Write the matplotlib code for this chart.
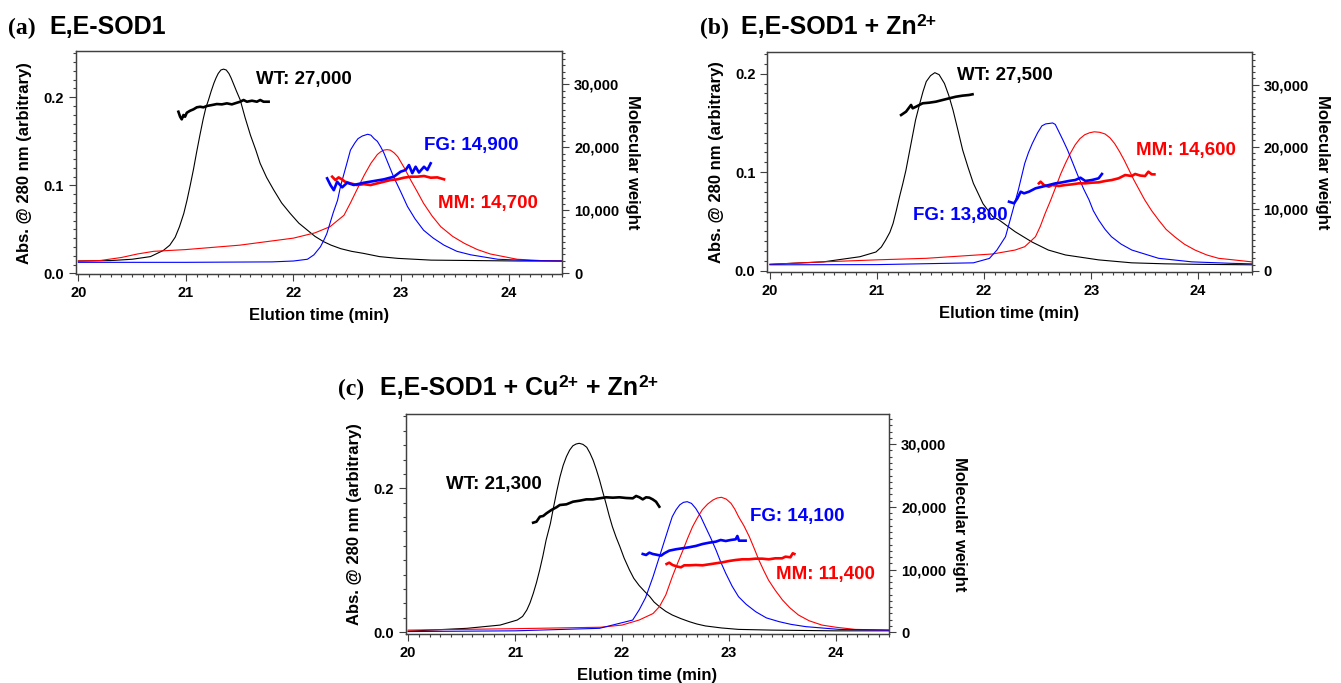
import matplotlib
matplotlib.use('Agg')
import matplotlib.pyplot as plt
from matplotlib import ticker

plt.rcParams['font.family'] = ['Liberation Sans', 'DejaVu Sans']
plt.rcParams['font.weight'] = 'bold'
plt.rcParams['axes.labelweight'] = 'bold'

# ---- panel (a): E,E-SOD1 ----
a_wt_t = [20.0, 20.3, 20.5, 20.67, 20.79, 20.85, 20.90, 20.94, 20.98, 21.01, 21.04, 21.07, 21.10, 21.13,
          21.16, 21.185, 21.21, 21.235, 21.26, 21.28, 21.30, 21.325, 21.35, 21.375, 21.40, 21.42, 21.44,
          21.47, 21.505, 21.55, 21.60, 21.65, 21.69, 21.75, 21.815, 21.89, 21.97, 22.05, 22.13, 22.2,
          22.28, 22.35, 22.44, 22.54, 22.65, 22.8, 22.97, 23.28, 23.7, 24.1, 24.5]
a_wt_abs = [0.014, 0.0145, 0.016, 0.019, 0.026, 0.032, 0.041, 0.053, 0.068, 0.083, 0.100, 0.118, 0.138, 0.157,
            0.175, 0.188, 0.197, 0.207, 0.216, 0.222, 0.227, 0.231, 0.232, 0.231, 0.227, 0.222, 0.216,
            0.207, 0.197, 0.177, 0.157, 0.140, 0.125, 0.109, 0.095, 0.080, 0.068, 0.057, 0.049, 0.042,
            0.036, 0.032, 0.028, 0.025, 0.0227, 0.019, 0.017, 0.015, 0.0145, 0.014, 0.014]
a_fg_t = [20.0, 21.0, 21.8, 22.0, 22.13, 22.19, 22.25, 22.28, 22.31, 22.34, 22.37, 22.41, 22.44, 22.49,
          22.53, 22.57, 22.60, 22.64, 22.69, 22.72, 22.75, 22.78, 22.81, 22.84, 22.87, 22.90, 22.93, 22.965,
          23.0, 23.06, 23.13, 23.21, 23.30, 23.40, 23.52, 23.65, 23.90, 24.21, 24.5]
a_fg_abs = [0.0125, 0.0125, 0.013, 0.014, 0.016, 0.021, 0.030, 0.037, 0.045, 0.057, 0.069, 0.083, 0.100, 0.122,
            0.140, 0.148, 0.153, 0.156, 0.158, 0.157, 0.153, 0.150, 0.144, 0.137, 0.128, 0.119, 0.110, 0.101,
            0.092, 0.076, 0.062, 0.049, 0.040, 0.032, 0.025, 0.021, 0.016, 0.0145, 0.014]
a_mm_t = [20.0, 20.2, 20.4, 20.55, 20.7, 21.0, 21.5, 22.0, 22.2, 22.34, 22.47, 22.53, 22.59, 22.66, 22.72,
          22.78, 22.81, 22.84, 22.87, 22.90, 22.935, 22.97, 23.03, 23.09, 23.15, 23.21, 23.29, 23.37, 23.48,
          23.59, 23.71, 23.83, 24.08, 24.3, 24.5]
a_mm_abs = [0.014, 0.0145, 0.018, 0.022, 0.025, 0.027, 0.032, 0.040, 0.046, 0.053, 0.066, 0.080, 0.095, 0.112,
            0.125, 0.135, 0.138, 0.140, 0.1405, 0.140, 0.137, 0.1325, 0.120, 0.106, 0.093, 0.0795, 0.065, 0.053,
            0.042, 0.034, 0.027, 0.022, 0.016, 0.0145, 0.014]
a_wt_mw_t = [20.93, 20.946, 20.961, 20.977, 20.992, 21.008, 21.039, 21.07, 21.101, 21.132, 21.163, 21.194,
             21.241, 21.287, 21.334, 21.381, 21.427, 21.474, 21.505, 21.536, 21.567, 21.614, 21.66, 21.691,
             21.722, 21.769]
a_wt_mw = [25650, 24860, 24440, 25130, 24860, 25490, 25810, 26030, 26350, 26440, 26350, 26560, 26710, 26870,
           26820, 26980, 26820, 27080, 27240, 27510, 27240, 27400, 27240, 27510, 27240, 27240]
a_fg_mw_t = [22.313, 22.344, 22.375, 22.406, 22.453, 22.499, 22.561, 22.655, 22.748, 22.841, 22.934, 22.996,
             23.043, 23.074, 23.105, 23.136, 23.167, 23.214, 23.245, 23.276]
a_fg_mw = [15080, 14016, 13200, 14540, 13650, 14380, 14020, 14380, 14650, 14920, 15340, 16130, 16400, 17190,
           15900, 16920, 16000, 16920, 16400, 17460]
a_mm_mw_t = [22.36, 22.39, 22.42, 22.45, 22.48, 22.53, 22.59, 22.655, 22.717, 22.779, 22.841, 22.903, 22.965,
             23.027, 23.09, 23.152, 23.214, 23.276, 23.338, 23.40]
a_mm_mw = [15340, 14810, 15230, 14920, 14540, 14280, 14016, 14150, 14016, 14280, 14540, 14810, 14920, 15180,
           15340, 15340, 15450, 15180, 15230, 14920]

# ---- panel (b): E,E-SOD1 + Zn ----
b_wt_t = [20.0, 20.5, 20.84, 20.99, 21.04, 21.08, 21.12, 21.15, 21.18, 21.21, 21.24, 21.27, 21.30, 21.33,
          21.36, 21.40, 21.43, 21.46, 21.50, 21.54, 21.58, 21.63, 21.67, 21.71, 21.755, 21.80, 21.85, 21.90,
          21.99, 22.08, 22.14, 22.29, 22.45, 22.60, 22.76, 23.07, 23.38, 23.69, 24.0, 24.5]
b_wt_abs = [0.0065, 0.009, 0.0142, 0.019, 0.024, 0.031, 0.039, 0.048, 0.061, 0.075, 0.088, 0.102, 0.119, 0.136,
            0.153, 0.170, 0.182, 0.192, 0.198, 0.201, 0.199, 0.190, 0.178, 0.163, 0.143, 0.1225, 0.105, 0.0887,
            0.068, 0.055, 0.0515, 0.0396, 0.029, 0.021, 0.016, 0.011, 0.008, 0.007, 0.0065, 0.006]
b_fg_t = [20.0, 21.0, 21.9, 22.05, 22.12, 22.20, 22.26, 22.32, 22.38, 22.415, 22.45, 22.50, 22.54, 22.575,
          22.61, 22.64, 22.665, 22.69, 22.735, 22.78, 22.83, 22.88, 22.93, 22.98, 23.02, 23.07, 23.13, 23.19,
          23.28, 23.38, 23.63, 23.94, 24.31, 24.5]
b_fg_abs = [0.006, 0.0062, 0.008, 0.0125, 0.021, 0.0345, 0.058, 0.082, 0.109, 0.120, 0.129, 0.140, 0.147, 0.149,
            0.1495, 0.150, 0.1485, 0.143, 0.133, 0.1225, 0.109, 0.0955, 0.083, 0.072, 0.061, 0.0515, 0.042,
            0.0345, 0.027, 0.021, 0.0126, 0.009, 0.0075, 0.007]
b_mm_t = [20.0, 20.5, 20.99, 21.46, 22.08, 22.29, 22.38, 22.48, 22.525, 22.57, 22.62, 22.67, 22.715, 22.76,
          22.805, 22.85, 22.895, 22.94, 22.985, 23.03, 23.08, 23.13, 23.175, 23.22, 23.265, 23.31, 23.355,
          23.40, 23.45, 23.50, 23.565, 23.63, 23.70, 23.78, 23.87, 23.97, 24.08, 24.19, 24.33, 24.5]
b_mm_abs = [0.0065, 0.009, 0.011, 0.0126, 0.017, 0.021, 0.0244, 0.0345, 0.045, 0.058, 0.071, 0.085, 0.098, 0.109,
            0.119, 0.1276, 0.134, 0.138, 0.140, 0.141, 0.1405, 0.1388, 0.135, 0.129, 0.121, 0.112, 0.102,
            0.092, 0.082, 0.072, 0.061, 0.0515, 0.042, 0.0345, 0.027, 0.021, 0.016, 0.0126, 0.011, 0.009]
b_wt_mw_t = [21.225, 21.271, 21.318, 21.333, 21.364, 21.426, 21.488, 21.55, 21.612, 21.674, 21.736, 21.798,
             21.86, 21.892]
b_wt_mw = [25110, 25650, 26730, 26190, 26450, 27000, 27100, 27260, 27530, 27800, 28060, 28230, 28340, 28450]
b_fg_mw_t = [22.233, 22.28, 22.311, 22.342, 22.373, 22.419, 22.481, 22.543, 22.605, 22.667, 22.729, 22.791,
             22.853, 22.9, 22.946, 23.008, 23.07, 23.101]
b_fg_mw = [11130, 10870, 11670, 12740, 12480, 12740, 13290, 13550, 13820, 14090, 14250, 14470, 14630, 15000,
           14470, 14630, 14900, 15600]
b_mm_mw_t = [22.512, 22.528, 22.559, 22.605, 22.636, 22.698, 22.76, 22.822, 22.884, 22.946, 23.008, 23.07,
             23.132, 23.194, 23.256, 23.318, 23.38, 23.411, 23.458, 23.504, 23.535, 23.566, 23.591]
b_mm_mw = [14090, 14360, 13820, 13550, 13820, 13660, 13820, 13930, 14090, 14090, 14200, 14250, 14470, 14630,
           14900, 15430, 15270, 15600, 15350, 15270, 15970, 15540, 15540]

# ---- panel (c): E,E-SOD1 + Cu + Zn ----
c_wt_t = [20.0, 20.55, 20.86, 21.02, 21.07, 21.11, 21.14, 21.17, 21.20, 21.23, 21.26, 21.29, 21.33, 21.36,
          21.39, 21.42, 21.45, 21.48, 21.51, 21.54, 21.57, 21.60, 21.635, 21.67, 21.70, 21.73, 21.76, 21.79,
          21.82, 21.85, 21.88, 21.91, 21.945, 21.98, 22.02, 22.07, 22.11, 22.16, 22.21, 22.26, 22.30, 22.35,
          22.41, 22.47, 22.55, 22.63, 22.70, 22.78, 22.93, 23.09, 23.40, 24.0, 24.5]
c_wt_abs = [0.0015, 0.0055, 0.010, 0.017, 0.022, 0.031, 0.041, 0.054, 0.069, 0.0865, 0.106, 0.128, 0.151, 0.174,
            0.196, 0.216, 0.232, 0.244, 0.253, 0.259, 0.2615, 0.2625, 0.261, 0.257, 0.249, 0.239, 0.226, 0.2115,
            0.195, 0.179, 0.162, 0.1467, 0.132, 0.119, 0.103, 0.0865, 0.075, 0.065, 0.057, 0.0495, 0.042, 0.0356,
            0.029, 0.024, 0.019, 0.0147, 0.0115, 0.0088, 0.006, 0.004, 0.003, 0.002, 0.002]
c_fg_t = [20.0, 21.0, 21.79, 22.10, 22.16, 22.22, 22.29, 22.32, 22.35, 22.38, 22.41, 22.44, 22.47, 22.505,
          22.54, 22.575, 22.61, 22.65, 22.69, 22.735, 22.78, 22.83, 22.88, 22.925, 22.97, 23.03, 23.09, 23.16,
          23.25, 23.35, 23.47, 23.58, 23.72, 24.03, 24.5]
c_fg_abs = [0.001, 0.002, 0.0055, 0.017, 0.031, 0.048, 0.077, 0.091, 0.105, 0.119, 0.133, 0.147, 0.1606, 0.170,
            0.177, 0.1805, 0.1814, 0.179, 0.172, 0.161, 0.1467, 0.131, 0.114, 0.097, 0.082, 0.064, 0.0494, 0.039,
            0.0286, 0.020, 0.0147, 0.011, 0.0078, 0.004, 0.003]
c_mm_t = [20.0, 21.0, 21.8, 22.0, 22.16, 22.29, 22.35, 22.41, 22.47, 22.52, 22.57, 22.615, 22.66, 22.705,
          22.75, 22.80, 22.85, 22.89, 22.93, 22.975, 23.02, 23.055, 23.09, 23.14, 23.19, 23.235, 23.28, 23.325,
          23.37, 23.43, 23.50, 23.57, 23.65, 23.75, 23.87, 24.0, 24.18, 24.5]
c_mm_abs = [0.003, 0.005, 0.007, 0.010, 0.017, 0.026, 0.0356, 0.052, 0.077, 0.096, 0.114, 0.131, 0.1467, 0.159,
            0.170, 0.178, 0.1837, 0.1865, 0.1875, 0.185, 0.179, 0.171, 0.1606, 0.148, 0.133, 0.117, 0.1004, 0.086,
            0.0726, 0.059, 0.045, 0.034, 0.024, 0.016, 0.010, 0.007, 0.004, 0.003]
c_wt_mw_t = [21.169, 21.2, 21.232, 21.263, 21.294, 21.34, 21.387, 21.418, 21.48, 21.542, 21.604, 21.666,
             21.728, 21.79, 21.852, 21.914, 21.976, 22.039, 22.101, 22.132, 22.163, 22.194, 22.225, 22.256,
             22.287, 22.318, 22.349]
c_wt_mw = [17480, 17640, 18440, 18550, 18980, 19510, 19940, 20300, 20410, 20830, 20990, 21200, 21200, 21370,
           21530, 21470, 21530, 21420, 21370, 21740, 21530, 21200, 21530, 21470, 21200, 20830, 20030]
c_fg_mw_t = [22.194, 22.225, 22.256, 22.287, 22.334, 22.365, 22.396, 22.442, 22.504, 22.566, 22.628, 22.691,
             22.753, 22.815, 22.877, 22.923, 22.97, 23.017, 23.063, 23.079, 23.094, 23.156]
c_fg_mw = [12490, 12330, 12700, 12490, 12330, 12220, 12600, 13020, 13240, 13400, 13560, 13770, 14080, 14290,
           14450, 14720, 14560, 14720, 14830, 15360, 14610, 14610]
c_mm_mw_t = [22.417, 22.442, 22.473, 22.52, 22.551, 22.582, 22.628, 22.691, 22.753, 22.815, 22.877, 22.939,
             23.001, 23.063, 23.125, 23.187, 23.249, 23.311, 23.373, 23.435, 23.497, 23.529, 23.575, 23.597,
             23.612]
c_mm_mw = [10890, 11100, 10730, 10470, 10360, 10680, 10680, 10730, 10680, 10840, 11000, 11160, 11370, 11530,
           11640, 11640, 11740, 11740, 11640, 11800, 11800, 12060, 11960, 12600, 12490]

x_ticks = [20, 21, 22, 23, 24]

BLACK, BLUE, RED = '#000000', '#0000ff', '#ff0000'
SPINE = '#404040'
W, H = 1341, 683


def style_axis(ax):
    ax.tick_params(axis='both', which='both', direction='out', colors=SPINE, width=0.8,
                   labelcolor='black', labelsize=10.5)
    ax.tick_params(which='major', length=5)
    ax.tick_params(which='minor', length=2.5)
    for s in ax.spines.values():
        s.set_color(SPINE)
        s.set_linewidth(0.9)


def bold_ticks(ax):
    for lab in ax.get_xticklabels() + ax.get_yticklabels():
        lab.set_fontweight('bold')


def draw_panel(fig, box, curves, mw, labels, ylim, y_major, mw_top):
    left, top, right, bottom = box
    ax = fig.add_axes([left / W, 1 - bottom / H, (right - left) / W, (bottom - top) / H])
    for t, v, c in curves:
        ax.plot(t, v, color=c, lw=0.8)
    ax.set_xlim(19.975, 24.5)
    ax.set_ylim(*ylim)
    ax.set_xticks(x_ticks)
    ax.xaxis.set_minor_locator(ticker.MultipleLocator(0.1))
    ax.yaxis.set_major_locator(ticker.MultipleLocator(y_major))
    ax.yaxis.set_minor_locator(ticker.MultipleLocator(0.01 if y_major < 0.15 else 0.02))
    ax.yaxis.set_major_formatter(ticker.FormatStrFormatter('%.1f'))
    style_axis(ax)
    ax.set_xlabel('Elution time (min)', fontsize=12, fontweight='bold', labelpad=6)
    ax.set_ylabel('Abs. @ 280 nm (arbitrary)', fontsize=12, fontweight='bold', labelpad=8)
    for txt, x, y, c in labels:
        ax.text(x, y, txt, color=c, fontsize=13.5, fontweight='bold', ha='left', va='center')

    ax2 = ax.twinx()
    for t, v, c in mw:
        ax2.plot(t, v, color=c, lw=1.9)
    ax2.set_ylim(ylim[0] / ylim[1] * mw_top, mw_top)
    ax2.yaxis.set_major_locator(ticker.MultipleLocator(10000))
    ax2.yaxis.set_minor_locator(ticker.MultipleLocator(1000))
    ax2.yaxis.set_major_formatter(ticker.FuncFormatter(lambda v, p: f'{int(round(v)):,}'))
    style_axis(ax2)
    ax2.set_ylabel('Molecular weight', fontsize=12, fontweight='bold', rotation=270, labelpad=15)
    bold_ticks(ax)
    bold_ticks(ax2)
    return ax


def draw_title(fig, renderer, tag, parts, x_tag, x_name, base):
    fig.text(x_tag / W, 1 - base / H, tag, family='Liberation Serif', fontsize=17, fontweight='bold',
             ha='left', va='baseline')
    x = x_name
    for txt, sup in parts:
        size = 12.5 if sup else 18
        y = base - 8 if sup else base
        t = fig.text(x / W, 1 - y / H, txt, fontsize=size, fontweight='bold', ha='left', va='baseline')
        x += t.get_window_extent(renderer=renderer).width + (1 if sup else 0)


fig = plt.figure(figsize=(W / 100, H / 100), dpi=100)

draw_panel(fig, (75.7, 51, 562.3, 274.3),
           [(a_wt_t, a_wt_abs, BLACK), (a_mm_t, a_mm_abs, RED), (a_fg_t, a_fg_abs, BLUE)],
           [(a_wt_mw_t, a_wt_mw, BLACK), (a_mm_mw_t, a_mm_mw, RED), (a_fg_mw_t, a_fg_mw, BLUE)],
           [('WT: 27,000', 21.65, 0.2197, BLACK), ('FG: 14,900', 23.21, 0.1458, BLUE),
            ('MM: 14,700', 23.34, 0.0795, RED)],
           (-0.0011, 0.2526), 0.1, 35290)

draw_panel(fig, (767.3, 51.7, 1251.7, 272),
           [(b_wt_t, b_wt_abs, BLACK), (b_mm_t, b_mm_abs, RED), (b_fg_t, b_fg_abs, BLUE)],
           [(b_wt_mw_t, b_wt_mw, BLACK), (b_mm_mw_t, b_mm_mw, RED), (b_fg_mw_t, b_fg_mw, BLUE)],
           [('WT: 27,500', 21.75, 0.1977, BLACK), ('MM: 14,600', 23.42, 0.122, RED),
            ('FG: 13,800', 21.34, 0.0565, BLUE)],
           (-0.0013, 0.2223), 0.1, 35320)

draw_panel(fig, (405.5, 414.3, 889.3, 634),
           [(c_wt_t, c_wt_abs, BLACK), (c_mm_t, c_mm_abs, RED), (c_fg_t, c_fg_abs, BLUE)],
           [(c_wt_mw_t, c_wt_mw, BLACK), (c_mm_mw_t, c_mm_mw, RED), (c_fg_mw_t, c_fg_mw, BLUE)],
           [('WT: 21,300', 20.35, 0.2046, BLACK), ('FG: 14,100', 23.20, 0.1606, BLUE),
            ('MM: 11,400', 23.44, 0.0805, RED)],
           (-0.0024, 0.3028), 0.2, 34770)

renderer = fig.canvas.get_renderer()
draw_title(fig, renderer, '(a)', [('E,E-SOD1', False)], 8, 49, 34)
draw_title(fig, renderer, '(b)', [('E,E-SOD1 + Zn', False), ('2+', True)], 700, 741, 34)
draw_title(fig, renderer, '(c)', [('E,E-SOD1 + Cu', False), ('2+', True), (' + Zn', False), ('2+', True)],
           338, 380, 395)

fig.savefig('out.png', dpi=100)
